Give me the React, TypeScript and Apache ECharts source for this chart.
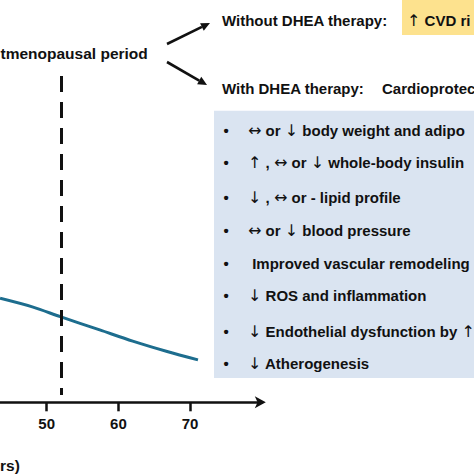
import React, { useEffect, useRef } from "react";
import * as echarts from "echarts";

// ---- data ----
const xTicks = [50, 60, 70];
const xMin = 43.49;
const xMax = 80;
const ages = [43.5, 48.1, 51.9, 57.4, 62.0, 66.8, 71.1];
const levels = [26.0, 23.8, 21.4, 18.1, 15.3, 12.7, 10.6];
const menopauseAge = 52;
const menopauseSpan = [81.6, 1.8];
const periodLabel = "tmenopausal period";
const axisTitle = "rs)";
const withoutLabel = "Without DHEA therapy:";
const withoutOutcome = "\u2191 CVD ri";
const withLabel = "With DHEA therapy:";
const withOutcome = "Cardioprotec";
const bulletItems = [
  "\u2194 or \u2193 body weight and adipo",
  "\u2191 , \u2194 or \u2193 whole-body insulin",
  "\u2193 , \u2194 or - lipid profile",
  "\u2194 or \u2193 blood pressure",
  " Improved vascular remodeling",
  "\u2193 ROS and inflammation",
  "\u2193 Endothelial dysfunction by \u2191",
  "\u2193 Atherogenesis",
];
const bulletRowsY = [130, 162, 197, 230, 263, 295, 331, 363];

const FONT = "Liberation Sans, Arial, Helvetica, sans-serif";
const INK = "#111111";

function arrow(x1: number, y1: number, x2: number, y2: number) {
  const dx = x2 - x1;
  const dy = y2 - y1;
  const len = Math.sqrt(dx * dx + dy * dy);
  const ux = dx / len;
  const uy = dy / len;
  const hl = 9;
  const hw = 4.2;
  const bx = x2 - ux * hl;
  const by = y2 - uy * hl;
  const nx = -uy;
  const ny = ux;
  return [
    {
      type: "line",
      shape: { x1, y1, x2: bx, y2: by },
      style: { stroke: INK, lineWidth: 2.6 },
      silent: true,
    },
    {
      type: "polygon",
      shape: {
        points: [
          [x2, y2],
          [bx + nx * hw, by + ny * hw],
          [bx - nx * hw, by - ny * hw],
        ],
      },
      style: { fill: INK },
      silent: true,
    },
  ];
}

const richArrows = {
  a: {
    fontFamily: "DejaVu Sans",
    fontWeight: "normal",
    fontSize: 16,
    fill: INK,
    color: INK,
  },
};

function txt(x: number, y: number, text: string, align = "left", size = 15) {
  const rich = text.replace(/([\u2190-\u21FF])/g, "{a|$1}");
  return {
    type: "text",
    x,
    y,
    silent: true,
    style: {
      text: rich,
      fill: INK,
      font: `bold ${size}px ${FONT}`,
      textAlign: align,
      textVerticalAlign: "middle",
      rich: richArrows,
    },
  };
}

export default function App() {
  const ref = useRef<HTMLDivElement>(null);
  useEffect(() => {
    if (!ref.current) return;
    const chart = echarts.init(ref.current, null, { renderer: "svg" });
    const graphics: any[] = [
      {
        type: "rect",
        shape: { x: 402, y: -5, width: 90, height: 40 },
        style: { fill: "#fde28e" },
        silent: true,
      },
      {
        type: "rect",
        shape: { x: 214, y: 110.7, width: 280, height: 267.3 },
        style: { fill: "#dae4f1" },
        silent: true,
      },
      txt(0.5, 53, periodLabel, "left", 15.5),
      txt(0, 465, axisTitle, "left", 15.5),
      txt(222, 20, withoutLabel),
      txt(407, 20, withoutOutcome),
      txt(222, 88, withLabel),
      txt(382, 88, withOutcome),
      ...arrow(167, 44, 210, 23),
      ...arrow(167, 62, 207, 85),
    ];
    bulletItems.forEach((item, i) => {
      graphics.push(txt(226, bulletRowsY[i], "\u2022", "center", 15));
      graphics.push(txt(248, bulletRowsY[i], item, "left", 15));
    });

    chart.setOption({
      animation: false,
      grid: { left: 0, right: 212.2, top: 2.3, bottom: 71.7 },
      xAxis: {
        type: "value",
        min: xMin,
        max: xMax,
        splitLine: { show: false },
        axisLine: {
          show: true,
          lineStyle: { color: INK, width: 2.5 },
          symbol: ["none", "arrow"],
          symbolSize: [9, 11],
          symbolOffset: [0, 4],
        },
        axisTick: {
          show: true,
          customValues: xTicks,
          length: 9,
          lineStyle: { color: INK, width: 2.5 },
        },
        axisLabel: {
          show: true,
          customValues: xTicks,
          margin: 14,
          color: INK,
          fontSize: 15,
          fontWeight: "bold",
          fontFamily: FONT,
        },
      },
      yAxis: {
        type: "value",
        min: 0,
        max: 100,
        show: false,
        splitLine: { show: false },
      },
      series: [
        {
          type: "line",
          data: ages.map((a, i) => [a, levels[i]]),
          smooth: 0.3,
          showSymbol: false,
          symbol: "none",
          lineStyle: { color: "#1d6d8e", width: 3 },
          silent: true,
          markLine: {
            silent: true,
            symbol: ["none", "none"],
            label: { show: false },
            lineStyle: { color: INK, width: 3, type: [16, 10] },
            data: [
              [
                { coord: [menopauseAge, menopauseSpan[0]] },
                { coord: [menopauseAge, menopauseSpan[1]] },
              ],
            ],
          },
        },
      ],
      graphic: graphics,
    });
    return () => chart.dispose();
  }, []);
  return (
    <div
      ref={ref}
      style={{ position: "absolute", left: 0, top: 0, width: 474, height: 474 }}
    />
  );
}
